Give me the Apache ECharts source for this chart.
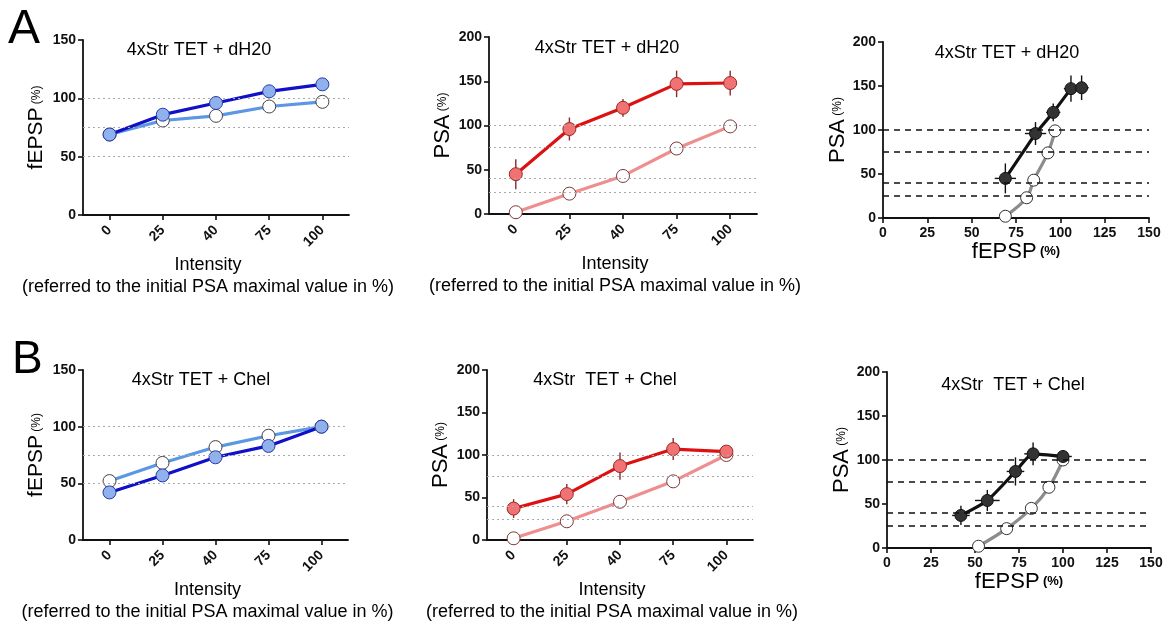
<!DOCTYPE html>
<html>
<head>
<meta charset="utf-8">
<script src="https://cdn.jsdelivr.net/npm/echarts@6/dist/echarts.min.js"></script>
<style>html,body{margin:0;padding:0;background:#fff}#c{width:1168px;height:624px}</style>
</head>
<body>
<div id="c"></div>
<script>
// ---- data ----
const categories = ['0', '25', '40', '75', '100'];
// Panel A (dH20)
const a1Dark = [69, 86, 96, 106, 112];
const a1Light = [69, 81, 85, 93, 97];
const a2Red = [45, 96, 120, 147, 148];
const a2RedErr = [17, 13, 10, 15, 14];
const a2Pink = [2, 23, 43, 74, 99];
const a3XErr = [6, 6, 4, 4, 4];
// Panel B (Chel)
const b1Dark = [42, 57, 73, 83, 100];
const b1Light = [52, 68, 82, 92, 100];
const b2Red = [37, 54, 87, 107, 104];
const b2RedErr = [11, 12, 16, 13, 4];
const b2Pink = [2, 22, 45, 69, 100];
const b3XErr = [5, 7, 5, 5, 5];
// reference lines
const refFepsp = [50, 75, 100];
const refPsa = [25, 40, 75, 100];
// tick setups
const fepspTicks = {min: 0, max: 150, interval: 50};
const psaTicks = {min: 0, max: 200, interval: 50};
const xyTicks = {min: 0, max: 150, interval: 25};

const titles = ['4xStr TET + dH20', '4xStr TET + dH20', '4xStr TET + dH20',
                '4xStr TET + Chel', '4xStr  TET + Chel', '4xStr  TET + Chel'];
const xName = 'Intensity\n(referred to the initial PSA maximal value in %)';

// ---- helpers ----
const FONT = '"Liberation Sans", Arial, sans-serif';
const grids = [
  {left: 83, top: 40, width: 266, height: 175},
  {left: 489, top: 37, width: 268, height: 177},
  {left: 883, top: 42, width: 266, height: 176},
  {left: 83, top: 370, width: 265, height: 175},
  {left: 487, top: 370, width: 266, height: 175},
  {left: 887, top: 372, width: 264, height: 176}
];
const axisLine = {lineStyle: {color: '#111', width: 1.8}};
const axisTick = {show: true, length: 5, lineStyle: {color: '#111', width: 1.6}};
const tickLabel = {color: '#111', fontWeight: 'bold', fontSize: 14, fontFamily: FONT};

function catAxis(gi) {
  return {
    type: 'category', gridIndex: gi, data: categories,
    axisLine, axisTick: Object.assign({alignWithLabel: true}, axisTick),
    axisLabel: Object.assign({rotate: 45, margin: 13}, tickLabel),
    splitLine: {show: false},
    name: xName, nameLocation: 'middle', nameGap: 39,
    nameTextStyle: {fontSize: 18, lineHeight: 22, color: '#000', fontFamily: FONT, padding: [0, 16, 0, 0]}
  };
}
function valXAxis(gi, gap) {
  return Object.assign({
    type: 'value', gridIndex: gi, axisLine, axisTick,
    axisLabel: Object.assign({margin: 8}, tickLabel),
    splitLine: {show: false},
    name: '{a|fEPSP} {b|(%)}', nameLocation: 'middle', nameGap: gap,
    nameTextStyle: {color: '#000', fontFamily: FONT,
      rich: {a: {fontSize: 22, fontFamily: FONT, color: '#000'}, b: {fontSize: 13, fontWeight: 'bold', fontFamily: FONT, color: '#000'}}}
  }, xyTicks);
}
function yAxis(gi, ticks, label, gap, big) {
  return Object.assign({
    type: 'value', gridIndex: gi, axisLine: Object.assign({show: true}, axisLine), axisTick,
    axisLabel: Object.assign({margin: 7}, tickLabel),
    splitLine: {show: false},
    name: '{a|' + label + '} {b|(%)}', nameLocation: 'middle', nameGap: gap, nameRotate: 90,
    nameTextStyle: {color: '#000', fontFamily: FONT,
      rich: {a: {fontSize: big, fontFamily: FONT, color: '#000'}, b: {fontSize: 12, fontFamily: FONT, color: '#000'}}}
  }, ticks);
}
function refLines(values, strong) {
  return {
    silent: true, symbol: ['none', 'none'], label: {show: false},
    lineStyle: strong ? {color: '#111', width: 1.7, type: [6, 5]} : {color: '#aaa', width: 1, type: [2, 3]},
    data: values.map(v => ({yAxis: v}))
  };
}
function lineSeries(gi, data, color, markerFill, markerBorder, size, extra) {
  return Object.assign({
    type: 'line', xAxisIndex: gi, yAxisIndex: gi, data,
    symbol: 'circle', symbolSize: size, showSymbol: true,
    lineStyle: {color, width: 3.2},
    itemStyle: {color: markerFill, borderColor: markerBorder, borderWidth: 1},
    z: 3, animation: false
  }, extra || {});
}
function errSeries(gi, data, color) {
  return {
    type: 'custom', xAxisIndex: gi, yAxisIndex: gi, data, z: 2, animation: false, silent: true,
    renderItem: function (params, api) {
      const x = api.value(0), y = api.value(1), ey = api.value(2), ex = api.value(3);
      const children = [];
      const t = api.coord([x, y + ey]), b = api.coord([x, y - ey]);
      children.push({type: 'line', shape: {x1: t[0], y1: t[1], x2: b[0], y2: b[1]}, style: {stroke: color, lineWidth: 1.4}});
      if (ex) {
        const l = api.coord([x - ex, y]), r = api.coord([x + ex, y]);
        children.push({type: 'line', shape: {x1: l[0], y1: l[1], x2: r[0], y2: r[1]}, style: {stroke: color, lineWidth: 1.4}});
      }
      return {type: 'group', children};
    }
  };
}
const zip = (xs, ys) => xs.map((x, i) => [x, ys[i]]);

// ---- colors ----
const DARKBLUE = '#1010c8', LIGHTBLUE = '#5b97e3', BLUEFILL = '#8fb2ee';
const RED = '#dc1212', PINK = '#ef8e8e', REDFILL = '#f07272';
const BLACK = '#111', GRAY = '#8c8c8c';

const series = [
  // A1
  lineSeries(0, a1Light, LIGHTBLUE, '#fff', '#444', 13, {markLine: refLines(refFepsp, false)}),
  lineSeries(0, a1Dark, DARKBLUE, BLUEFILL, '#2a3aa8', 13),
  // A2
  errSeries(1, a2Red.map((v, i) => [i, v, a2RedErr[i], 0]), '#8a2a2a'),
  lineSeries(1, a2Pink, PINK, '#fff', '#7a3a3a', 13, {markLine: refLines(refPsa, false)}),
  lineSeries(1, a2Red, RED, REDFILL, '#a02828', 13),
  // A3
  errSeries(2, a1Dark.map((v, i) => [v, a2Red[i], a2RedErr[i], a3XErr[i]]), '#111'),
  lineSeries(2, zip(a1Light, a2Pink), GRAY, '#fff', '#333', 12, {smooth: 0.35, markLine: refLines(refPsa, true)}),
  lineSeries(2, zip(a1Dark, a2Red), BLACK, '#333', '#111', 12),
  // B1
  lineSeries(3, b1Light, LIGHTBLUE, '#fff', '#444', 13, {markLine: refLines(refFepsp, false)}),
  lineSeries(3, b1Dark, DARKBLUE, BLUEFILL, '#2a3aa8', 13),
  // B2
  errSeries(4, b2Red.map((v, i) => [i, v, b2RedErr[i], 0]), '#8a2a2a'),
  lineSeries(4, b2Pink, PINK, '#fff', '#7a3a3a', 13, {markLine: refLines(refPsa, false)}),
  lineSeries(4, b2Red, RED, REDFILL, '#a02828', 13),
  // B3
  errSeries(5, b1Dark.map((v, i) => [v, b2Red[i], b2RedErr[i], b3XErr[i]]), '#111'),
  lineSeries(5, zip(b1Light, b2Pink), GRAY, '#fff', '#333', 12, {smooth: 0.35, markLine: refLines(refPsa, true)}),
  lineSeries(5, zip(b1Dark, b2Red), BLACK, '#333', '#111', 12, {smooth: 0.2})
];

const titlePos = [[199, 50], [607, 48], [1007, 53], [201, 380], [605, 380], [1013, 385]];
const graphic = titles.map((t, i) => ({
  type: 'text', x: titlePos[i][0], y: titlePos[i][1],
  style: {text: t, font: '18px ' + FONT, fill: '#000', align: 'center', verticalAlign: 'middle'}
}));
graphic.push({type: 'text', x: 8, y: 30, style: {text: 'A', font: '48px ' + FONT, fill: '#000', align: 'left', verticalAlign: 'middle'}});
graphic.push({type: 'text', x: 12, y: 360, style: {text: 'B', font: '46px ' + FONT, fill: '#000', align: 'left', verticalAlign: 'middle'}});

const option = {
  backgroundColor: '#fff',
  animation: false,
  grid: grids,
  xAxis: [catAxis(0), catAxis(1), valXAxis(2, 16), catAxis(3), catAxis(4), valXAxis(5, 18)],
  yAxis: [
    yAxis(0, fepspTicks, 'fEPSP', 36, 21),
    yAxis(1, psaTicks, 'PSA', 35, 22),
    yAxis(2, psaTicks, 'PSA', 21, 22),
    yAxis(3, fepspTicks, 'fEPSP', 36, 21),
    yAxis(4, psaTicks, 'PSA', 35, 22),
    yAxis(5, psaTicks, 'PSA', 30, 22)
  ],
  series,
  graphic
};
const chart = echarts.init(document.getElementById('c'), null, {renderer: 'canvas'});
chart.setOption(option);
</script>
</body>
</html>
